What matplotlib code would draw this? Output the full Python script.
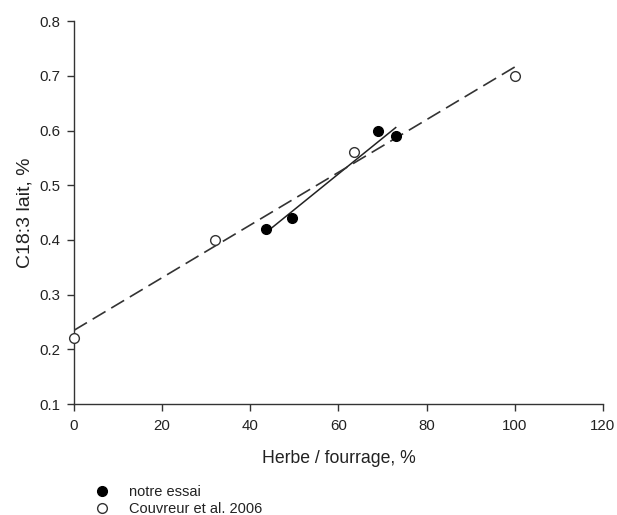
import matplotlib
matplotlib.use("Agg")
import matplotlib.pyplot as plt
import numpy as np
from matplotlib.lines import Line2D

plt.rcParams['font.family'] = ['Liberation Sans', 'DejaVu Sans']

# notre essai (filled)
essai_x = [43.5, 49.5, 69, 73]
essai_y = [0.42, 0.44, 0.60, 0.59]
# Couvreur et al. 2006 (open)
couv_x = [0, 32, 63.5, 100]
couv_y = [0.22, 0.40, 0.56, 0.70]

xticks = [0, 20, 40, 60, 80, 100, 120]
yticks = [0.1, 0.2, 0.3, 0.4, 0.5, 0.6, 0.7, 0.8]
labels = ["notre essai", "Couvreur et al. 2006"]

fig = plt.figure(figsize=(6.17, 5.15), dpi=100)
ax = fig.add_axes([0.12, 0.2155, 0.857, 0.7435])

# regression lines
p1 = np.polyfit(essai_x, essai_y, 1)
xs1 = np.array([min(essai_x), max(essai_x)])
ax.plot(xs1, np.polyval(p1, xs1), color='#222222', lw=1.1, zorder=2)

p2 = np.polyfit(couv_x, couv_y, 1)
xs2 = np.array([min(couv_x), max(couv_x)])
ax.plot(xs2, np.polyval(p2, xs2), color='#333333', lw=1.2,
        dashes=(9, 4), zorder=2)

ax.plot(essai_x, essai_y, 'o', color='black', ms=7, clip_on=False, zorder=3)
ax.plot(couv_x, couv_y, 'o', mfc='white', mec='#333333', mew=1.0, ms=7,
        clip_on=False, zorder=3)

ax.set_xlim(0, 120)
ax.set_ylim(0.1, 0.8)
ax.set_xticks(xticks)
ax.set_yticks(yticks)
ax.set_xticklabels([str(t) for t in xticks])
ax.set_yticklabels([f"{t:.1f}" for t in yticks])
ax.spines['top'].set_visible(False)
ax.spines['right'].set_visible(False)
for s in ('left', 'bottom'):
    ax.spines[s].set_color('#333333')
    ax.spines[s].set_linewidth(1.0)
ax.tick_params(direction='out', length=5, width=1.0, color='#333333',
               labelsize=10.8, labelcolor='#222222')
ax.tick_params(axis='x', pad=6)
ax.tick_params(axis='y', pad=5)

ax.set_xlabel("Herbe / fourrage, %", fontsize=12.7, color='#222222', labelpad=12)
ax.set_ylabel("C18:3 lait, %", fontsize=14, color='#222222', labelpad=4)

handles = [
    Line2D([], [], ls='none', marker='o', color='black', ms=7),
    Line2D([], [], ls='none', marker='o', mfc='white', mec='#333333', mew=1.0, ms=7),
]
fig.legend(handles, labels, loc='upper left', bbox_to_anchor=(0.153, 0.059),
           frameon=False, fontsize=10.5, handletextpad=1.4, labelspacing=0.23,
           borderaxespad=0, borderpad=0, handlelength=1.0, labelcolor='#222222')

fig.savefig("out.png", dpi=100)
